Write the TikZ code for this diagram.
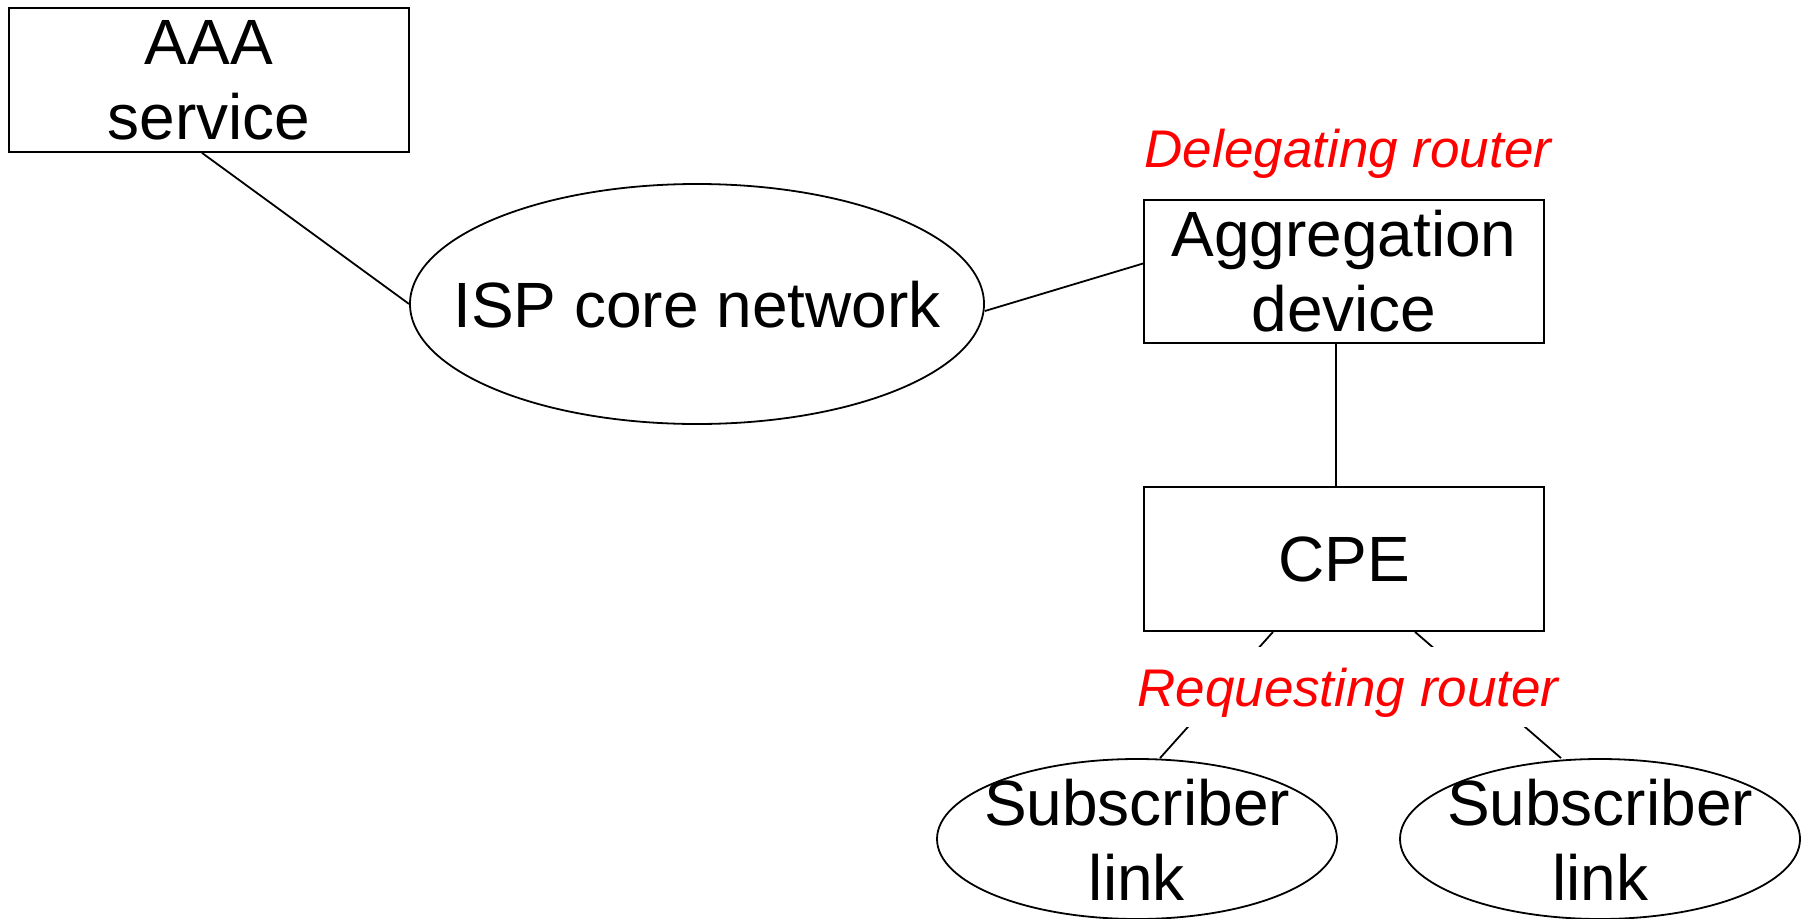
\documentclass[tikz,border=0pt]{standalone}
\usepackage{fontspec}
\setmainfont{Liberation Sans}
\usetikzlibrary{shapes.geometric}
\newcommand\bodyfont{\fontsize{64}{75}\selectfont}
\newcommand\rolefont{\fontsize{53}{60}\selectfont\itshape}
\begin{document}
\begin{tikzpicture}[x=1pt,y=-1pt,line width=1.8pt,
  box/.style={draw,rectangle,inner sep=0pt,align=center,font=\bodyfont},
  blob/.style={draw,ellipse,inner sep=0pt},
  txt/.style={inner sep=0pt,align=center,font=\bodyfont},
  role/.style={inner sep=0pt,text=red,font=\rolefont}]
\clip (0,0) rectangle (1801,918);
\fill[white] (0,0) rectangle (1801,918);

% equipment boxes
\node[box,minimum width=400,minimum height=144] (aaa) at (209,80) {AAA\\service};
\node[box,minimum width=400,minimum height=143] (agg) at (1344,271.5) {Aggregation\\device};
\node[box,minimum width=400,minimum height=144] (cpe) at (1344,559) {CPE};

% network clouds
\node[blob,minimum width=574,minimum height=240] (isp) at (697,304) {};
\node[txt] (isptxt) at (697,305) {ISP core network};
\node[blob,minimum width=400,minimum height=160] (sub1) at (1137,839) {};
\node[txt] (sub1txt) at (1137,840) {Subscriber\\link};
\node[blob,minimum width=400,minimum height=160] (sub2) at (1600,839) {};
\node[txt] (sub2txt) at (1600,840) {Subscriber\\link};

% links
\draw ([xshift=-7pt]aaa.south) -- (isp.west);
\draw ([yshift=-7pt]isp.east) -- ([yshift=8pt]agg.west);
\draw ([xshift=-8pt]agg.south) -- ([xshift=-8pt]cpe.north);
\draw ([xshift=-71pt]cpe.south) -- ([xshift=23pt]sub1.north);
\draw ([xshift=71pt]cpe.south) -- ([xshift=-39pt]sub2.north);

% role labels
\node[role,anchor=base] (deleg) at (1348,167) {Delegating router};
\node[role,anchor=base,fill=white,text height=59pt,text depth=21pt] (req) at (1348,706) {Requesting router};
\end{tikzpicture}
\end{document}
